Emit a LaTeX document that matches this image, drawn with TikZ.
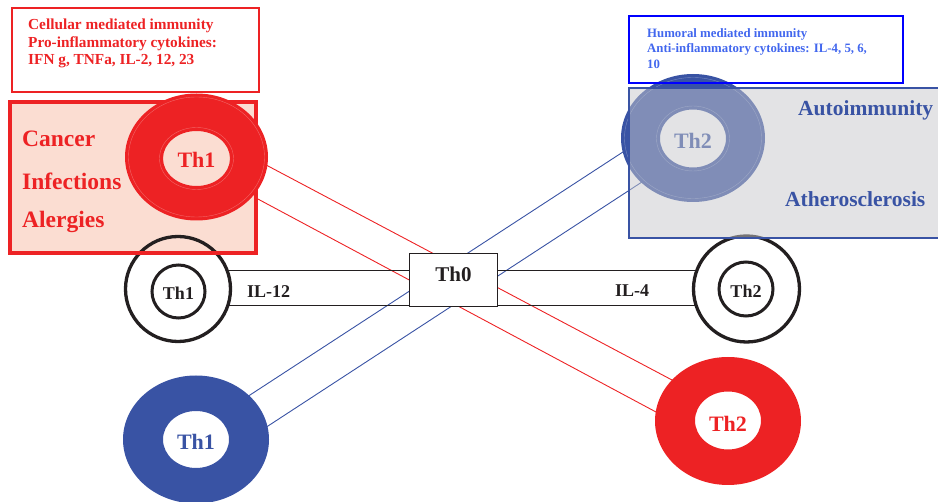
\documentclass[tikz,border=0pt]{standalone}
\usepackage{fontspec}
\setmainfont{Liberation Serif}
\definecolor{myred}{RGB}{237,34,36}
\definecolor{peach}{RGB}{251,221,210}
\definecolor{dblue}{RGB}{57,83,164}
\definecolor{lblue}{RGB}{66,103,238}
\definecolor{boxgrey}{RGB}{199,200,203}
\definecolor{ink}{RGB}{35,31,32}
\begin{document}
\begin{tikzpicture}[x=1pt,y=-1pt,
  redline/.style={draw=myred,line width=0.9pt},
  blueline/.style={draw=dblue,line width=0.9pt},
  ilbar/.style={draw=ink,line width=1pt},
  ringtxt/.style={font=\bfseries\fontsize{22}{24}\selectfont,inner sep=0},
  smalltxt/.style={font=\bfseries\fontsize{18}{20}\selectfont,inner sep=0,text=ink},
  bigtxt/.style={font=\bfseries\fontsize{23.5}{26}\selectfont,inner sep=0,text=myred,anchor=base west},
  dis/.style={font=\bfseries\fontsize{21.5}{24}\selectfont,inner sep=0,text=dblue,anchor=base west},
  blackring/.style={draw=ink,line width=3.3pt},
  blackinner/.style={draw=ink,line width=3pt},
  faint/.style={draw=white,opacity=0.3,line width=0.4pt}
]
\useasboundingbox (0,0) rectangle (938,502);

% connector end points
\coordinate (rA1) at (268,166); \coordinate (rB1) at (672,380);
\coordinate (rA2) at (256,198); \coordinate (rB2) at (656,412);
\coordinate (bA1) at (250,395); \coordinate (bB1) at (626,150);
\coordinate (bA2) at (268,426); \coordinate (bB2) at (645,180);

% crossing connectors
\draw[redline,shorten <=-3pt,shorten >=-3pt] (rA1) -- (rB1);
\draw[redline,shorten <=-3pt,shorten >=-3pt] (rA2) -- (rB2);
\draw[blueline,shorten <=-3pt,shorten >=-3pt] (bA1) -- (bB1);
\draw[blueline,shorten <=-3pt,shorten >=-3pt] (bA2) -- (bB2);

% IL bars
\coordinate (il12a) at (215,271); \coordinate (il12b) at (215,306);
\coordinate (il4a) at (720,271); \coordinate (il4b) at (720,306);
\node[draw=ink,line width=0.9pt,fill=white,minimum width=88.5pt,minimum height=53.5pt,inner sep=0] (th0) at (453.5,280) {};
\draw[ilbar] (il12a) -- (th0.west |- il12a);
\draw[ilbar] (il12b) -- (th0.west |- il12b);
\draw[ilbar] (th0.east |- il4a) -- (il4a);
\draw[ilbar] (th0.east |- il4b) -- (il4b);
\node[smalltxt,anchor=base west] (il12) at (247,298) {IL-12};
\node[smalltxt,anchor=base west] (il4) at (615,297) {IL-4};
\node[font=\bfseries\fontsize{21}{24}\selectfont,text=ink,inner sep=0,anchor=base] (th0t) at (453.5,282) {Th0};

% black ring Th1 (left) white fill
\fill[white] (178,289) circle (53);
% red box fill
\fill[peach] (10,102) rectangle (256,253);
% black ring Th1 strokes
\draw[blackring] (178,289) circle (52.5);
\draw[blackinner] (178.5,291.5) circle (26.5);
\node[smalltxt] (th1b) at (178.5,293) {Th1};
% red box border
\draw[myred,line width=3.2pt] (10,102) rectangle (256,253);
\node[bigtxt] (cancer) at (22,147) {Cancer};
\node[bigtxt] (infect) at (22,190) {Infections};
\node[bigtxt] (aler) at (22,228) {Alergies};

% red top ring Th1
\fill[myred,even odd rule] (196.5,157) ellipse (71.5 and 63.5) (196.5,158.5) ellipse (33.5 and 27.5);
\draw[faint] (196.5,157) ellipse (68 and 60);
\draw[faint] (196.5,158.5) ellipse (37 and 31);
\node[ringtxt,text=myred] (th1a) at (196.5,160) {Th1};

% top-left text box
\draw[myred,line width=1.8pt] (12,8) rectangle (259,92);
\node[anchor=north west,inner sep=0,align=left,text=myred,
  font=\bfseries\fontsize{15.3}{17.8}\selectfont] (cell) at (28,18.5)
  {Cellular mediated immunity\\Pro-inflammatory cytokines:\\IFN g, TNFa, IL-2, 12, 23};

% black ring Th2 (right)
\fill[white] (746.5,289) circle (54);
\draw[blackring] (746.5,289) circle (53);
\draw[blackinner] (746,289) circle (27);
\node[smalltxt] (th2b) at (746,291) {Th2};

% blue top ring Th2 (under grey box)
\fill[dblue,even odd rule] (693,138) ellipse (72 and 64) (693,138.5) ellipse (33 and 29);
\draw[faint] (693,138) ellipse (68.5 and 60.5);
\draw[faint] (693,138.5) ellipse (36.5 and 32.5);
\node[ringtxt,text=dblue] (th2a) at (693,141) {Th2};

% grey box with transparency
\fill[boxgrey,fill opacity=0.5] (629,88) rectangle (945,238);
\draw[dblue,line width=1.5pt] (629,88) rectangle (945,238);
\node[dis] (auto) at (798,116) {Autoimmunity};
\node[dis] (ather) at (785,207) {Atherosclerosis};

% top-right text box
\draw[blue,line width=1.8pt] (629,16) rectangle (903,83);
\node[anchor=north west,inner sep=0,align=left,text=lblue,
  font=\bfseries\fontsize{12.8}{15.3}\selectfont] (hum) at (647,28.5)
  {Humoral mediated immunity\\Anti-inflammatory cytokines: IL-4, 5, 6,\\10};

% bottom rings
\fill[dblue,even odd rule] (196,439.5) ellipse (73 and 64) (196,439.5) ellipse (33 and 28.5);
\node[ringtxt,text=dblue] (th1c) at (196,442) {Th1};
\fill[myred,even odd rule] (728,421) ellipse (73 and 64) (728,420.5) ellipse (33 and 29);
\node[ringtxt,text=myred] (th2c) at (728,423.5) {Th2};
\end{tikzpicture}
\end{document}
